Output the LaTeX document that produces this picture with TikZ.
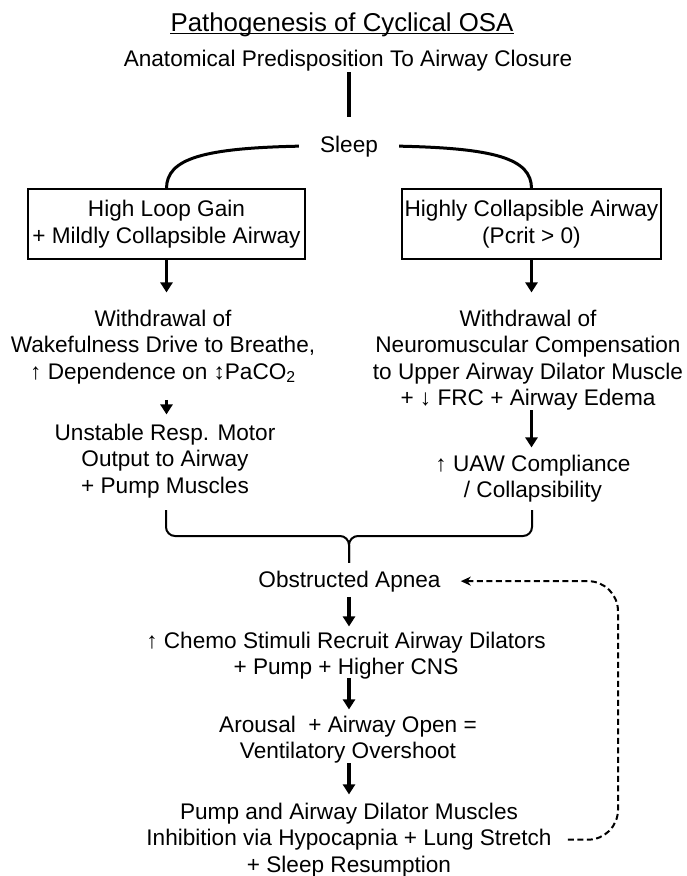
\documentclass[tikz,border=0pt]{standalone}
\usepackage{fontspec}
\setmainfont{Liberation Sans}
\usetikzlibrary{arrows.meta}

\tikzset{
  txt/.style={font=\fontsize{22.6pt}{26.5pt}\selectfont, align=center, inner sep=0pt, anchor=base},
  cbox/.style={draw, line width=1.2pt, minimum height=70pt, inner sep=0pt,
    font=\fontsize{22.6pt}{26.5pt}\selectfont, align=center},
  arr/.style={line width=3.5pt, -{Triangle[width=12pt,length=10pt]}},
  sleeparc/.style={line width=3pt},
  brace/.style={line width=2pt, rounded corners=9pt},
  fb/.style={line width=2pt, dash pattern=on 6pt off 3.5pt, rounded corners=30pt,
    -{Stealth[length=10pt,width=9pt]}}
}

\begin{document}
\begin{tikzpicture}[x=1pt,y=-1pt]

\useasboundingbox (0,0) rectangle (687,876);

\node[txt, font=\fontsize{25.8pt}{30pt}\selectfont] (title) at (342,31.5) {Pathogenesis of Cyclical OSA};
\draw[line width=1.4pt] ([yshift=-1.8pt]title.base west) -- ([yshift=-1.8pt]title.base east);

\node[txt] (anat) at (348,66) {Anatomical Predisposition To Airway Closure};
\node[txt, inner xsep=21pt] (sleep) at (349,152) {Sleep};

\node[cbox, minimum width=277pt] (lbox) at (166.5,224) {High Loop Gain\\+ Mildly Collapsible Airway};
\node[cbox, minimum width=259pt] (rbox) at (531.5,224) {Highly Collapsible Airway\\(Pcrit > 0)};

\node[txt] (lwd) at (163,379) {Withdrawal of\\Wakefulness Drive to Breathe,\\↑ Dependence on ↕PaCO\textsubscript{2}};
\node[txt] (lun) at (165,493) {Unstable Resp. Motor\\Output to Airway\\+ Pump Muscles};

\node[txt] (rwd) at (528,405.5) {Withdrawal of\\Neuromuscular Compensation\\to Upper Airway Dilator Muscle\\+ ↓ FRC + Airway Edema};
\node[txt] (ruaw) at (533,497.5) {↑ UAW Compliance\\/ Collapsibility};

\node[txt] (apnea) at (349.5,587) {Obstructed Apnea};
\node[txt] (chemo) at (346,674.5) {↑ Chemo Stimuli Recruit Airway Dilators\\+ Pump + Higher CNS};
\node[txt] (arousal) at (348,758.5) {Arousal\ \ + Airway Open =\\Ventilatory Overshoot};
\node[txt] (pump) at (349,872) {Pump and Airway Dilator Muscles\\Inhibition via Hypocapnia + Lung Stretch\\+ Sleep Resumption};

\draw[line width=4.3pt, shorten <=1.3pt, shorten >=18.5pt] (sleep.north |- anat.south) -- (sleep.north);

\draw[sleeparc] (sleep.west) .. controls +(-95,2) and +(0,-30) .. (lbox.north);
\draw[sleeparc] (sleep.east) .. controls +(95,2) and +(0,-30) .. (rbox.north);

\draw[arr, shorten >=17pt] (lbox.south) -- (lbox.south |- lwd.north);
\draw[arr, shorten <=16pt, shorten >=9pt] (lbox.south |- lwd.south) -- (lbox.south |- lun.north);
\draw[arr, shorten >=17pt] (rbox.south) -- (rbox.south |- rwd.north);
\draw[arr, shorten >=7pt] (rbox.south |- rwd.south) -- (rbox.south |- ruaw.north);

\coordinate (bl) at (166,510);
\coordinate (br) at (532,510);
\coordinate (bm) at (349,536);
\draw[brace, shorten >=7.5pt] (bl) |- (bm) -- (bm |- apnea.north);
\draw[brace, shorten >=7.5pt] (br) |- (bm) -- (bm |- apnea.north);

\foreach \a/\b/\s/\e in {apnea/chemo/5/5, chemo/arousal/-1/6, arousal/pump/0/8} {
    \draw[arr, shorten <=\s pt, shorten >=\e pt] (bm |- \a.south) -- (bm |- \b.north);
}

\coordinate (loop) at (618,0);
\draw[fb] ([xshift=16pt]pump.east) -- (pump.east -| loop) |- ([xshift=20pt]apnea.east);

\end{tikzpicture}
\end{document}
